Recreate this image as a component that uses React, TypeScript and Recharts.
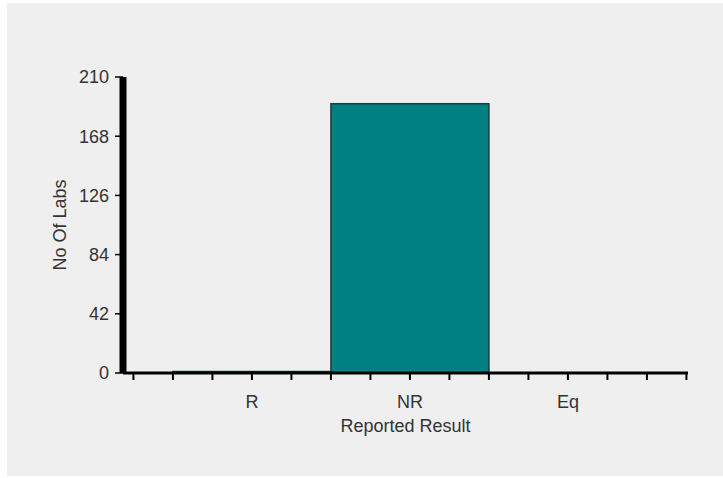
import React from "react";
import { BarChart, Bar, XAxis, YAxis } from "recharts";

// ---------------------------------------------------------------------------
// Data
// ---------------------------------------------------------------------------

const categories = ["R", "NR", "Eq"];
const labCounts = [1, 191, 0];
const yTicks = [0, 42, 84, 126, 168, 210];
// minor tick positions on the result axis, in category units (0 = R, 1 = NR, 2 = Eq)
const xTicks = [-0.75, -0.5, -0.25, 0, 0.25, 0.5, 0.75, 1, 1.25, 1.5, 1.75, 2, 2.25, 2.5, 2.75];

const data = categories.map((name, i) => ({ name, pos: i, value: labCounts[i] }));

const FONT = "'Liberation Sans', Arial, sans-serif";
const TICK_STYLE = { fontSize: 18, fill: "#333", fontFamily: FONT };

function formatResultTick(v: number): string {
  return Number.isInteger(v) ? categories[v] ?? "" : "";
}

export default function App() {
  return (
    <div style={{ position: "absolute", left: 0, top: 0, width: 723, height: 478, background: "#fff" }}>
      <div
        style={{
          position: "absolute",
          left: 7,
          top: 3,
          width: 716,
          height: 473,
          background: "#efefef",
        }}
      />
      <div style={{ position: "absolute", left: 0, top: 0 }}>
        <BarChart
          width={723}
          height={478}
          data={data}
          barCategoryGap={0}
          margin={{ top: 77, right: 35, bottom: 0, left: 20 }}
        >
          <XAxis
            type="number"
            dataKey="pos"
            domain={[-0.816, 2.76]}
            ticks={xTicks}
            allowDataOverflow
            interval={0}
            tickFormatter={formatResultTick}
            height={105}
            axisLine={{ stroke: "#000", strokeWidth: 3 }}
            tickLine={{ stroke: "#000", strokeWidth: 2 }}
            tickSize={7}
            tickMargin={15}
            tick={TICK_STYLE}
            label={{
              value: "Reported Result",
              position: "insideTop",
              offset: 46,
              style: { fontSize: 18, fill: "#333", fontFamily: FONT },
            }}
          />
          <YAxis
            type="number"
            domain={[0, 210]}
            ticks={yTicks}
            interval={0}
            width={103}
            axisLine={{ stroke: "#000", strokeWidth: 7 }}
            tickLine={{ stroke: "#000", strokeWidth: 1.5 }}
            tickSize={8}
            tickMargin={6}
            tick={TICK_STYLE}
            label={{
              value: "No Of Labs",
              angle: -90,
              position: "insideLeft",
              offset: 40,
              style: { fontSize: 18, fill: "#333", fontFamily: FONT, textAnchor: "middle" },
            }}
          />
          <Bar
            dataKey="value"
            fill="#008080"
            stroke="#1c3c3c"
            strokeWidth={1.5}
            isAnimationActive={false}
          />
        </BarChart>
      </div>
    </div>
  );
}
